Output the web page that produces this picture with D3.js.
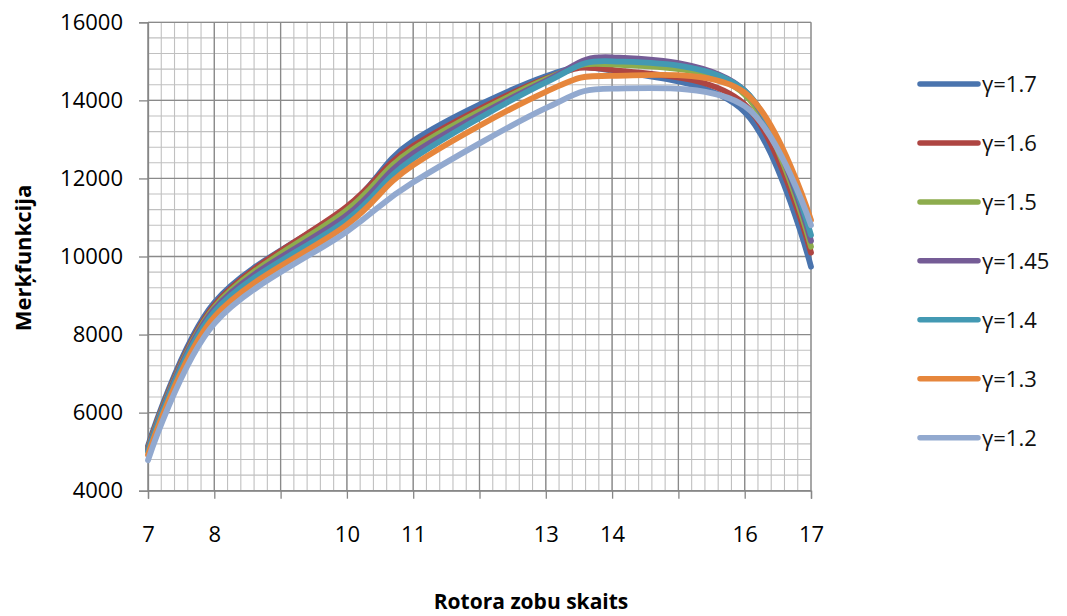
<!DOCTYPE html>
<html><head><meta charset="utf-8">
<script src="https://cdn.jsdelivr.net/npm/d3@7"></script>
<style>body{margin:0;background:#fff}svg{display:block}</style>
</head><body>
<svg id="c" width="1067" height="616"></svg>
<script>
const xValues = [7, 8, 10, 11, 13, 14, 16, 17];
const seriesNames = ["γ=1.7", "γ=1.6", "γ=1.5", "γ=1.45", "γ=1.4", "γ=1.3", "γ=1.2"];
const g17  = [5150, 8820, 11250, 12960, 14620, 14760, 13700, 9740];
const g16  = [5100, 8750, 11280, 12830, 14560, 14780, 13900, 10100];
const g15  = [5080, 8700, 11190, 12750, 14540, 14920, 14150, 10250];
const g145 = [5050, 8650, 11060, 12640, 14500, 15100, 14250, 10400];
const g14  = [5000, 8580, 10940, 12510, 14460, 15000, 14250, 10550];
const g13  = [4920, 8450, 10810, 12340, 14220, 14630, 14200, 10930];
const g12  = [4780, 8280, 10640, 11900, 13800, 14300, 13850, 10800];
const seriesValues = [g17, g16, g15, g145, g14, g13, g12];
const colors = ["#4A74AE", "#AE4542", "#8DAC4D", "#755C96", "#4399B3", "#E6863C", "#92A9CF"];
const xTickLabels = [7, 8, 10, 11, 13, 14, 16, 17];
const yTickValues = [4000, 6000, 8000, 10000, 12000, 14000, 16000];

const svg = d3.select("#c");
const L = 148, R = 811, T = 22.3, B = 490.7;
const x = d3.scaleLinear().domain([7, 17]).range([L, R]);
const y = d3.scaleLinear().domain([4000, 16000]).range([B, T]);
const font = "'Open Sans', sans-serif";

// minor grid
const minorX = d3.range(7, 17.001, 0.2);
const minorY = d3.range(4000, 16001, 400);
const grid = svg.append("g");
grid.selectAll(".mx").data(minorX).join("line")
  .attr("x1", d => x(d)).attr("x2", d => x(d)).attr("y1", T).attr("y2", B)
  .attr("stroke", "#C0C0C0").attr("stroke-width", 1.1);
grid.selectAll(".my").data(minorY).join("line")
  .attr("y1", d => y(d)).attr("y2", d => y(d)).attr("x1", L).attr("x2", R)
  .attr("stroke", "#C0C0C0").attr("stroke-width", 1.1);
// major grid
grid.selectAll(".Mx").data(d3.range(7, 18, 1)).join("line")
  .attr("x1", d => x(d)).attr("x2", d => x(d)).attr("y1", T).attr("y2", B)
  .attr("stroke", "#8A8A8A").attr("stroke-width", 1.3);
grid.selectAll(".My").data(d3.range(4000, 16001, 2000)).join("line")
  .attr("y1", d => y(d)).attr("y2", d => y(d)).attr("x1", L).attr("x2", R)
  .attr("stroke", "#8A8A8A").attr("stroke-width", 1.3);

// axes
const yAxis = d3.axisLeft(y).tickValues(yTickValues).tickSize(9).tickPadding(16).tickFormat(d3.format("d"));
const gy = svg.append("g").attr("transform", `translate(${L},0)`).call(yAxis);
const xAxis = d3.axisBottom(x).tickValues(d3.range(7, 18, 1)).tickSize(8).tickPadding(43)
  .tickFormat(d => xTickLabels.includes(d) ? String(d) : "");
const gx = svg.append("g").attr("transform", `translate(0,${B})`).call(xAxis);
[gx, gy].forEach(g => {
  g.select(".domain").attr("stroke", "#868686").attr("stroke-width", 1.3);
  g.selectAll(".tick line").attr("stroke", "#868686").attr("stroke-width", 1.3);
  g.selectAll("text").attr("font-family", font).attr("font-size", 22).attr("fill", "#000");
});
gx.selectAll("text").attr("dy", "0");

// lines
const line = d3.line().x((d, i) => x(xValues[i])).y(d => y(d)).curve(d3.curveCardinal.tension(0));
svg.append("g").selectAll("path").data(seriesValues).join("path")
  .attr("d", d => line(d)).attr("fill", "none")
  .attr("stroke", (d, i) => colors[i]).attr("stroke-width", 5.8)
  .attr("stroke-linecap", "round").attr("stroke-linejoin", "round");

// legend
const lg = svg.append("g");
seriesNames.forEach((n, i) => {
  const yy = 84 + i * 58.95;
  lg.append("line").attr("x1", 920).attr("x2", 978).attr("y1", yy).attr("y2", yy)
    .attr("stroke", colors[i]).attr("stroke-width", 5.5).attr("stroke-linecap", "round");
  lg.append("text").attr("x", 982).attr("y", yy).attr("dy", "0.36em")
    .attr("font-family", font).attr("font-size", 22).attr("fill", "#111").text(n);
});

// titles
svg.append("text").attr("x", 531).attr("y", 609).attr("text-anchor", "middle")
  .attr("font-family", font).attr("font-weight", "bold").attr("font-size", 21).text("Rotora zobu skaits");
svg.append("text").attr("transform", "translate(31,258) rotate(-90)").attr("text-anchor", "middle")
  .attr("font-family", font).attr("font-weight", "bold").attr("font-size", 22).text("Merķfunkcija");
</script>
</body></html>
